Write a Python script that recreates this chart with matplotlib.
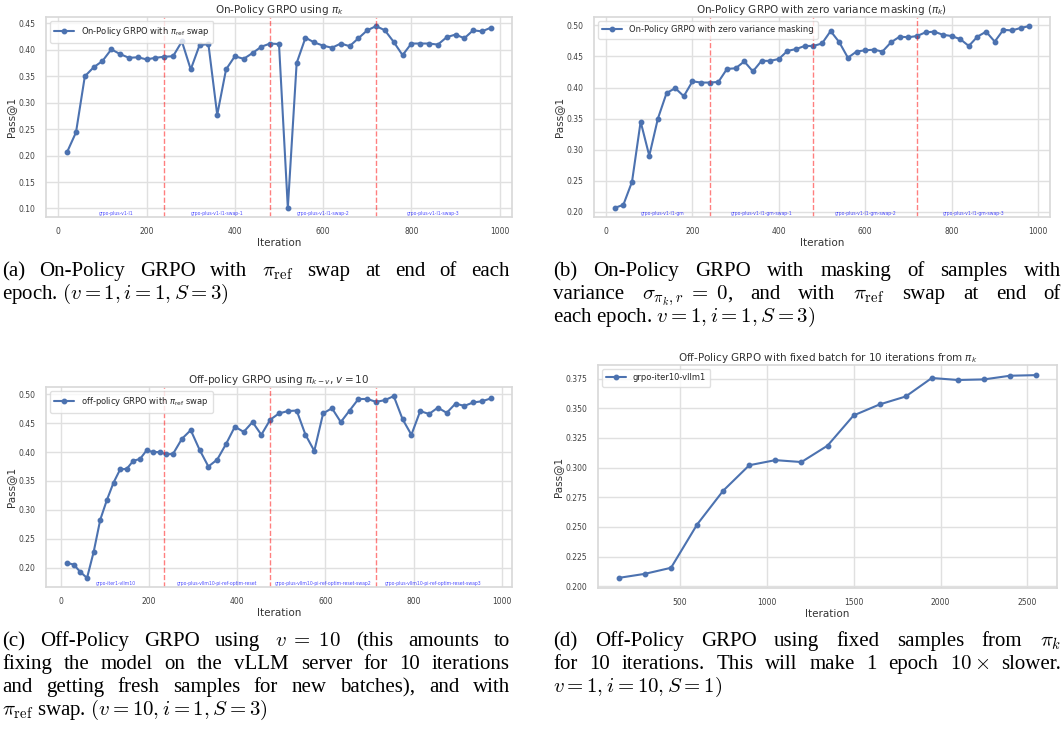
import matplotlib
matplotlib.use("Agg")
import matplotlib.pyplot as plt
import seaborn as sns

# --- DATA ---

# (a) on-policy GRPO, pi_ref swap every epoch
iters_a = list(range(20, 1000, 20))
pass_a = [0.207, 0.244, 0.350, 0.367, 0.379, 0.401, 0.392, 0.385, 0.386, 0.382,
          0.385, 0.387, 0.388, 0.416, 0.363, 0.409, 0.411, 0.277, 0.363, 0.388,
          0.383, 0.394, 0.406, 0.412, 0.411, 0.101, 0.375, 0.423, 0.414, 0.408,
          0.404, 0.412, 0.407, 0.422, 0.437, 0.445, 0.437, 0.415, 0.390, 0.412,
          0.412, 0.412, 0.410, 0.424, 0.429, 0.422, 0.437, 0.435, 0.442]
swaps_a = [240, 480, 720]
runs_a = ["grpo-plus-v1-l1", "grpo-plus-v1-l1-swap-1",
          "grpo-plus-v1-l1-swap-2", "grpo-plus-v1-l1-swap-3"]

# (b) on-policy GRPO with zero variance masking
iters_b = list(range(20, 1000, 20))
pass_b = [0.206, 0.211, 0.248, 0.345, 0.290, 0.350, 0.391, 0.399, 0.386, 0.410,
          0.408, 0.408, 0.409, 0.430, 0.431, 0.442, 0.426, 0.443, 0.443, 0.446,
          0.459, 0.462, 0.467, 0.467, 0.471, 0.491, 0.473, 0.448, 0.458, 0.460,
          0.461, 0.458, 0.473, 0.482, 0.481, 0.483, 0.489, 0.490, 0.485, 0.483,
          0.478, 0.467, 0.482, 0.490, 0.474, 0.493, 0.492, 0.496, 0.499]
swaps_b = [240, 480, 720]
runs_b = ["grpo-plus-v1-l1-gm", "grpo-plus-v1-l1-gm-swap-1",
          "grpo-plus-v1-l1-gm-swap-2", "grpo-plus-v1-l1-gm-swap-3"]

# (c) off-policy GRPO, v = 10
iters_c = list(range(15, 241, 15)) + list(range(255, 976, 20))
pass_c = [0.208, 0.205, 0.192, 0.182, 0.227, 0.283, 0.317, 0.347, 0.370, 0.371,
          0.385, 0.388, 0.403, 0.400, 0.400, 0.396, 0.397, 0.423, 0.438, 0.404,
          0.375, 0.387, 0.414, 0.444, 0.435, 0.452, 0.430, 0.456, 0.467, 0.471,
          0.472, 0.430, 0.402, 0.467, 0.476, 0.452, 0.472, 0.492, 0.492, 0.487,
          0.490, 0.497, 0.457, 0.430, 0.471, 0.466, 0.477, 0.468, 0.484, 0.480,
          0.486, 0.488, 0.493]
swaps_c = [235, 475, 715]
runs_c = ["grpo-iter1-vllm10", "grpo-plus-vllm10-pi-ref-optim-reset",
          "grpo-plus-vllm10-pi-ref-optim-reset-swap2",
          "grpo-plus-vllm10-pi-ref-optim-reset-swap3"]

# (d) fixed batch for 10 iterations
iters_d = list(range(150, 2551, 150))
pass_d = [0.207, 0.2104, 0.2155, 0.252, 0.2805, 0.302, 0.3063, 0.3047, 0.3185,
          0.344, 0.3533, 0.360, 0.3756, 0.3739, 0.3744, 0.3775, 0.378]

W, H = 1063, 738
BLUE = "#4c72b0"

sns.set_theme(style="whitegrid")
plt.rcParams["font.family"] = ["DejaVu Sans"]
plt.rcParams["axes.edgecolor"] = "0.85"
plt.rcParams["grid.color"] = "0.88"

fig = plt.figure(figsize=(W / 100, H / 100), dpi=100)


def box(left, top, right, bottom):
	return [left / W, 1 - bottom / H, (right - left) / W, (bottom - top) / H]


def panel(rect, x, y, label, title, swaps=None, runs=None):
	ax = fig.add_axes(box(*rect))
	ax.plot(x, y, marker="o", color=BLUE, lw=1.5, ms=3.2, label=label)
	ax.set_title(title, fontsize=7.5, pad=3, color="0.2")
	ax.set_xlabel("Iteration", fontsize=7.5, labelpad=1, color="0.2")
	ax.set_ylabel("Pass@1", fontsize=7.5, labelpad=2, color="0.2")
	ax.tick_params(labelsize=5.5, pad=1.5, colors="0.25")
	ax.legend(loc="upper left", fontsize=6, frameon=True, handlelength=2.4,
	          borderpad=0.5, edgecolor="0.85")
	if swaps:
		for s in swaps:
			ax.axvline(s, color="red", ls="--", lw=1, alpha=0.5)
		# run names centred on each segment, at the foot of the axes
		edges = [x[0]] + swaps + [x[-1]]
		for i, name in enumerate(runs):
			ax.text((edges[i] + edges[i + 1]) / 2, 0.005, name, fontsize=3.3,
			        color="blue", alpha=0.7, ha="center", va="bottom",
			        transform=ax.get_xaxis_transform())
	return ax


panel((46, 17, 512, 217), iters_a, pass_a,
      r"On-Policy GRPO with $\pi_{\mathrm{ref}}$ swap",
      r"On-Policy GRPO using $\pi_k$", swaps_a, runs_a)
panel((594, 17, 1050, 217), iters_b, pass_b,
      "On-Policy GRPO with zero variance masking",
      r"On-Policy GRPO with zero variance masking ($\pi_k$)", swaps_b, runs_b)
panel((46, 387, 512, 587), iters_c, pass_c,
      r"off-policy GRPO with $\pi_{\mathrm{ref}}$ swap",
      r"Off-policy GRPO using $\pi_{k-v}$, $v = 10$", swaps_c, runs_c)
panel((598, 365, 1057, 588), iters_d, pass_d, "grpo-iter10-vllm1",
      r"Off-Policy GRPO with fixed batch for 10 iterations from $\pi_k$")


# --- SUBFIGURE CAPTIONS (justified like the LaTeX source) ---

renderer = fig.canvas.get_renderer()
cap_style = dict(fontsize=15, family=["Liberation Serif", "DejaVu Serif"],
                 math_fontfamily="cm", color="black", va="baseline", ha="left")


def caption(x0, base, width, lines, dy=23):
	# base = baseline of the first line, in pixels from the top
	for i, line in enumerate(lines):
		y = 1 - (base + i * dy) / H
		if i == len(lines) - 1:
			fig.text(x0 / W, y, line, **cap_style)
			continue
		words = line.split(" ")
		texts = [fig.text(0, y, w, **cap_style) for w in words]
		widths = [t.get_window_extent(renderer).width for t in texts]
		gap = max(3, (width - sum(widths)) / (len(words) - 1))
		xp = x0
		for t, w in zip(texts, widths):
			t.set_x(xp / W)
			xp += w + gap


caption(2, 276, 508, [
	r"(a) On-Policy GRPO with $\pi_{\mathrm{ref}}$ swap at end of each",
	r"epoch. $(v = 1, i = 1, S = 3)$"])
caption(553, 276, 508, [
	r"(b) On-Policy GRPO with masking of samples with",
	r"variance $\sigma_{\pi_k,r}\;=\;0$, and with $\pi_{\mathrm{ref}}$ swap at end of",
	r"each epoch. $v = 1, i = 1, S = 3)$"])
caption(2, 646, 508, [
	r"(c) Off-Policy GRPO using $v\;=\;10$ (this amounts to",
	r"fixing the model on the vLLM server for 10 iterations",
	r"and getting fresh samples for new batches), and with",
	r"$\pi_{\mathrm{ref}}$ swap. $(v = 10, i = 1, S = 3)$"])
caption(553, 646, 508, [
	r"(d) Off-Policy GRPO using fixed samples from $\pi_k$",
	r"for 10 iterations. This will make 1 epoch $10\times$ slower.",
	r"$v = 1, i = 10, S = 1)$"])

fig.savefig("out.png", dpi=100)
